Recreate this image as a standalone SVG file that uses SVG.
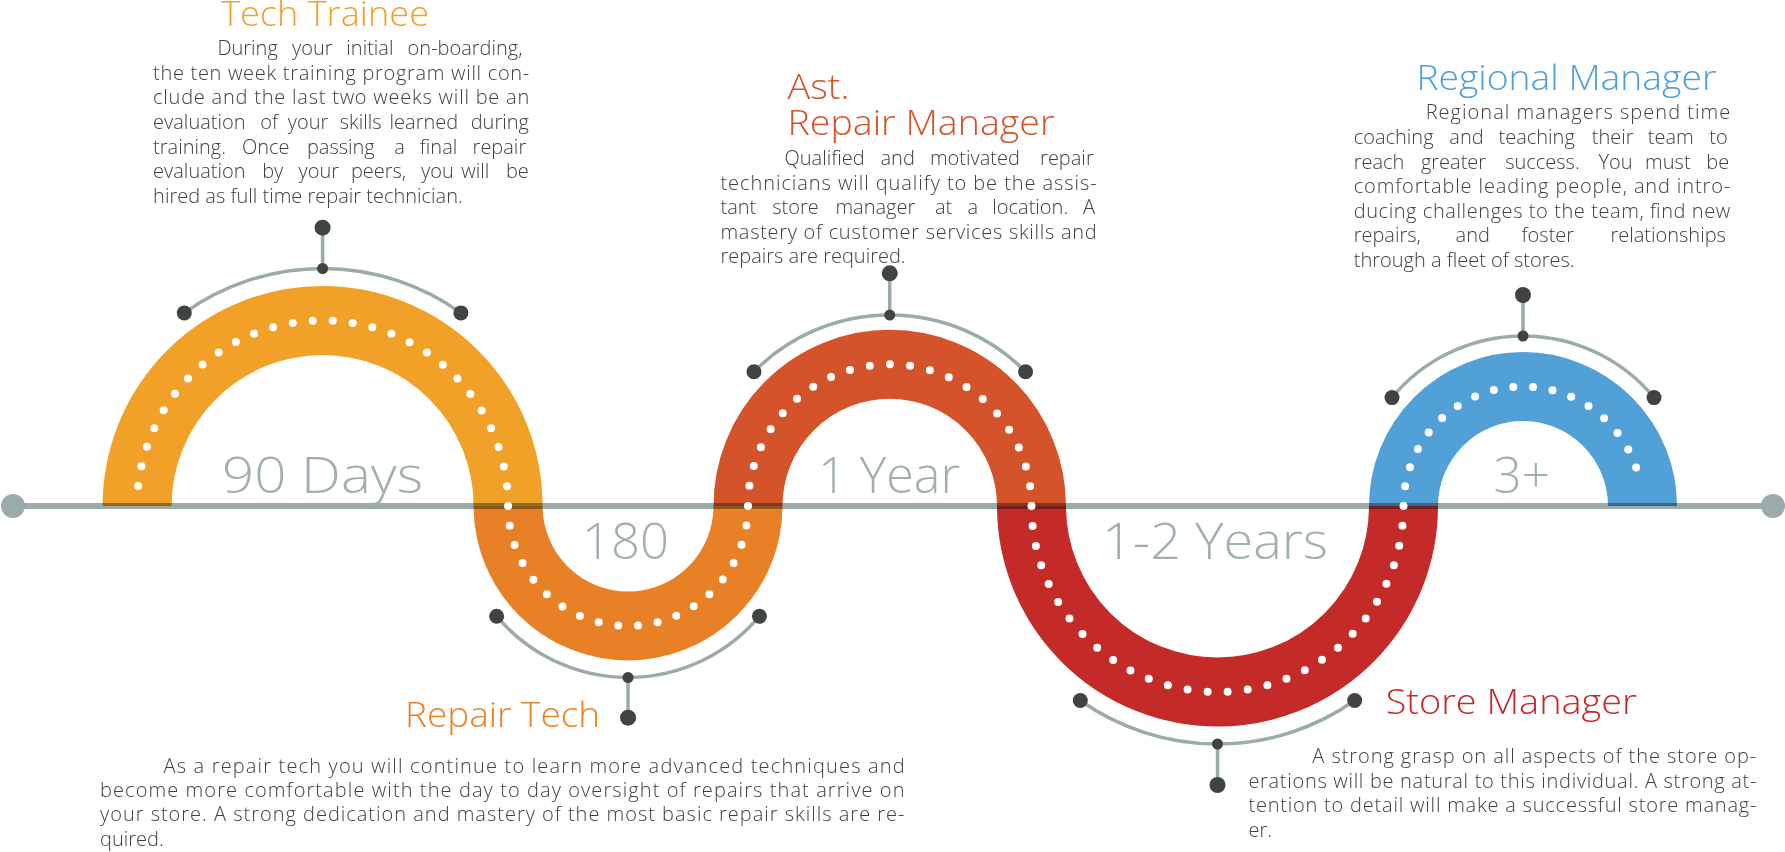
<svg xmlns="http://www.w3.org/2000/svg" width="1785" height="852" viewBox="0 0 1785 852">
<style>
.band{fill:none;stroke-width:69;}
.dots{fill:none;stroke:#fff;stroke-width:8;stroke-linecap:round;}
.axis{stroke:#9AABA9;stroke-width:6;mix-blend-mode:multiply;}
.brk{fill:none;stroke:#9AABA9;stroke-width:3.5;}
.knob{fill:#3F4442;}
.endc{fill:#9AABA9;}
.lbl{font-family:"Open Sans","Liberation Sans",sans-serif;font-weight:300;font-size:50px;fill:#A0B0AE;}
.ttl{font-family:"Open Sans","Liberation Sans",sans-serif;font-weight:300;font-size:34px;}
.body{font-family:"Open Sans","Liberation Sans",sans-serif;font-weight:300;font-size:20px;fill:#3E4240;}
</style>
<rect width="1785" height="852" fill="#fff"/>
<g id="bands">
<path class="band" stroke="#F2A128" d="M137.1,506 A185.5,185.5 0 0 1 508.1,506"/>
<path class="band" stroke="#E88026" d="M508.1,506 A119.95,119.95 0 0 0 748,506"/>
<path class="band" stroke="#D5532A" d="M748,506 A141.75,141.75 0 0 1 1031.5,506"/>
<path class="band" stroke="#C42A28" d="M1031.5,506 A186,186 0 0 0 1403.5,506"/>
<path class="band" stroke="#52A0D8" d="M1403.5,506 A119.5,119.5 0 0 1 1642.5,506"/>
</g>
<g id="axis">
<line class="axis" x1="13" y1="506" x2="1773" y2="506"/>
<circle class="endc" cx="13" cy="506" r="12"/>
<circle class="endc" cx="1773" cy="506" r="12"/>
</g>
<g id="dots">
<path class="dots" stroke-dasharray="0 20.095" d="M138.19,485.94 A185.5,185.5 0 0 1 508.1,506"/>
<path class="dots" stroke-dasharray="0 19.833" d="M508.1,506 A119.95,119.95 0 0 0 748,506"/>
<path class="dots" stroke-dasharray="0 20.242" d="M748,506 A141.75,141.75 0 0 1 1031.5,506"/>
<path class="dots" stroke-dasharray="0 20.15" d="M1031.5,506 A186,186 0 0 0 1403.5,506"/>
<path class="dots" stroke-dasharray="0 19.759" d="M1403.5,506 A119.5,119.5 0 0 1 1640.87,486.33"/>
</g>
<g id="connectors">
<path class="brk" d="M184.3,312.9 A237.5,237.5 0 0 1 460.9,312.9 M322.6,268.5 V227.7"/>
<path class="brk" d="M496.65,616.2 A171.5,171.5 0 0 0 759.45,616.2 M628.05,677.5 V717.7"/>
<path class="brk" d="M753.95,371.7 A191,191 0 0 1 1025.55,371.7 M889.75,315 V273.3"/>
<path class="brk" d="M1080.3,700.5 A238,238 0 0 0 1354.7,700.5 M1217.5,744 V785"/>
<path class="brk" d="M1392,397.6 A170,170 0 0 1 1654,397.6 M1523,336 V295"/>
</g>
<g id="node-tech-trainee">
<circle class="knob" cx="184.3" cy="312.9" r="7.5"/>
<circle class="knob" cx="460.9" cy="312.9" r="7.5"/>
<circle class="knob" cx="322.6" cy="268.5" r="5.5"/>
<circle class="knob" cx="322.6" cy="227.7" r="8"/>
<text class="lbl" x="222" y="493" textLength="201" lengthAdjust="spacingAndGlyphs">90 Days</text>
<text class="ttl" fill="#F2A128" x="221" y="26" textLength="208" lengthAdjust="spacingAndGlyphs">Tech Trainee</text>
<text class="body">
<tspan x="217.4" y="55">During</tspan><tspan x="292" y="55">your</tspan><tspan x="346.3" y="55">initial</tspan><tspan x="407.6" y="55">on-boarding,</tspan>
</text>
<text class="body" x="153" y="80" textLength="376.3">the ten week training program will con-</text>
<text class="body" x="153" y="104.3" textLength="376.3">clude and the last two weeks will be an</text>
<text class="body">
<tspan x="153.1" y="129">evaluation</tspan><tspan x="260.2" y="129">of</tspan><tspan x="287.8" y="129">your</tspan><tspan x="339.8" y="129">skills</tspan><tspan x="389.6" y="129">learned</tspan><tspan x="470.7" y="129">during</tspan>
<tspan x="153.1" y="153.7">training.</tspan><tspan x="241.9" y="153.7">Once</tspan><tspan x="306.9" y="153.7">passing</tspan><tspan x="394.2" y="153.7">a</tspan><tspan x="419.8" y="153.7">final</tspan><tspan x="472.6" y="153.7">repair</tspan>
<tspan x="153.1" y="178.3">evaluation</tspan><tspan x="262.2" y="178.3">by</tspan><tspan x="298.5" y="178.3">your</tspan><tspan x="350.9" y="178.3">peers,</tspan><tspan x="421" y="178.3">you</tspan><tspan x="461.2" y="178.3">will</tspan><tspan x="505.9" y="178.3">be</tspan>
<tspan x="153.1" y="202.7">hired as full time repair technician.</tspan>
</text>
</g>
<g id="node-repair-tech">
<circle class="knob" cx="496.65" cy="616.2" r="7.5"/>
<circle class="knob" cx="759.45" cy="616.2" r="7.5"/>
<circle class="knob" cx="628.05" cy="677.5" r="5.5"/>
<circle class="knob" cx="628.05" cy="717.7" r="8"/>
<text class="lbl" x="582" y="559" textLength="87" lengthAdjust="spacingAndGlyphs">180</text>
<text class="ttl" fill="#EC8125" x="405" y="727" textLength="195" lengthAdjust="spacingAndGlyphs">Repair Tech</text>
<text class="body" x="163.6" y="773.3" textLength="741">As a repair tech you will continue to learn more advanced techniques and</text>
<text class="body" x="100" y="797.3" textLength="804.5">become more comfortable with the day to day oversight of repairs that arrive on</text>
<text class="body" x="100" y="821.3" textLength="804.5">your store. A strong dedication and mastery of the most basic repair skills are re-</text>
<text class="body" x="100" y="845.7">quired.</text>
</g>
<g id="node-ast-repair-manager">
<circle class="knob" cx="753.95" cy="371.7" r="7.5"/>
<circle class="knob" cx="1025.55" cy="371.7" r="7.5"/>
<circle class="knob" cx="889.75" cy="315" r="5.5"/>
<circle class="knob" cx="889.75" cy="273.3" r="8"/>
<text class="lbl" x="818" y="493" textLength="142" lengthAdjust="spacingAndGlyphs">1 Year</text>
<text class="ttl" fill="#D5532A" x="787.5" y="99" textLength="62" lengthAdjust="spacingAndGlyphs">Ast.</text>
<text class="ttl" fill="#D5532A" x="787.5" y="135" textLength="267" lengthAdjust="spacingAndGlyphs">Repair Manager</text>
<text class="body">
<tspan x="784.5" y="165">Qualified</tspan><tspan x="880.5" y="165">and</tspan><tspan x="929.9" y="165">motivated</tspan><tspan x="1040.1" y="165">repair</tspan>
</text>
<text class="body" x="720.5" y="190" textLength="376.2">technicians will qualify to be the assis-</text>
<text class="body">
<tspan x="720.5" y="214.3">tant</tspan><tspan x="772.2" y="214.3">store</tspan><tspan x="835.4" y="214.3">manager</tspan><tspan x="934.9" y="214.3">at</tspan><tspan x="967.4" y="214.3">a</tspan><tspan x="992.3" y="214.3">location.</tspan><tspan x="1083" y="214.3">A</tspan>
</text>
<text class="body" x="720.5" y="239" textLength="376.2">mastery of customer services skills and</text>
<text class="body" x="720.5" y="263.3">repairs are required.</text>
</g>
<g id="node-store-manager">
<circle class="knob" cx="1080.3" cy="700.5" r="7.5"/>
<circle class="knob" cx="1354.7" cy="700.5" r="7.5"/>
<circle class="knob" cx="1217.5" cy="744" r="5.5"/>
<circle class="knob" cx="1217.5" cy="785" r="8"/>
<text class="lbl" x="1102" y="559" textLength="226" lengthAdjust="spacingAndGlyphs">1-2 Years</text>
<text class="ttl" fill="#C8282A" x="1385.7" y="714" textLength="251" lengthAdjust="spacingAndGlyphs">Store Manager</text>
<text class="body" x="1312.3" y="763.3" textLength="444">A strong grasp on all aspects of the store op-</text>
<text class="body" x="1248.4" y="787.7" textLength="508">erations will be natural to this individual. A strong at-</text>
<text class="body" x="1248.4" y="812.3" textLength="508">tention to detail will make a successful store manag-</text>
<text class="body" x="1248.4" y="836.7">er.</text>
</g>
<g id="node-regional-manager">
<circle class="knob" cx="1392" cy="397.6" r="7.5"/>
<circle class="knob" cx="1654" cy="397.6" r="7.5"/>
<circle class="knob" cx="1523" cy="336" r="5.5"/>
<circle class="knob" cx="1523" cy="295" r="8"/>
<text class="lbl" x="1493.5" y="493" textLength="56.5" lengthAdjust="spacingAndGlyphs">3+</text>
<text class="ttl" fill="#4FA0DA" x="1416.4" y="90" textLength="300" lengthAdjust="spacingAndGlyphs">Regional Manager</text>
<text class="body" x="1425.7" y="119.3" textLength="304.5">Regional managers spend time</text>
<text class="body">
<tspan x="1353.7" y="144.3">coaching</tspan><tspan x="1449.3" y="144.3">and</tspan><tspan x="1498.5" y="144.3">teaching</tspan><tspan x="1591.8" y="144.3">their</tspan><tspan x="1647.8" y="144.3">team</tspan><tspan x="1709.3" y="144.3">to</tspan>
<tspan x="1353.7" y="169">reach</tspan><tspan x="1420.9" y="169">greater</tspan><tspan x="1505.2" y="169">success.</tspan><tspan x="1598.5" y="169">You</tspan><tspan x="1645.1" y="169">must</tspan><tspan x="1706.3" y="169">be</tspan>
</text>
<text class="body" x="1353.7" y="193.3" textLength="376.5">comfortable leading people, and intro-</text>
<text class="body" x="1353.7" y="217.7" textLength="376.5">ducing challenges to the team, find new</text>
<text class="body">
<tspan x="1353.7" y="242.3">repairs,</tspan><tspan x="1455.6" y="242.3">and</tspan><tspan x="1521.6" y="242.3">foster</tspan><tspan x="1610.4" y="242.3">relationships</tspan>
</text>
<text class="body" x="1353.7" y="267">through a fleet of stores.</text>
</g>
</svg>
